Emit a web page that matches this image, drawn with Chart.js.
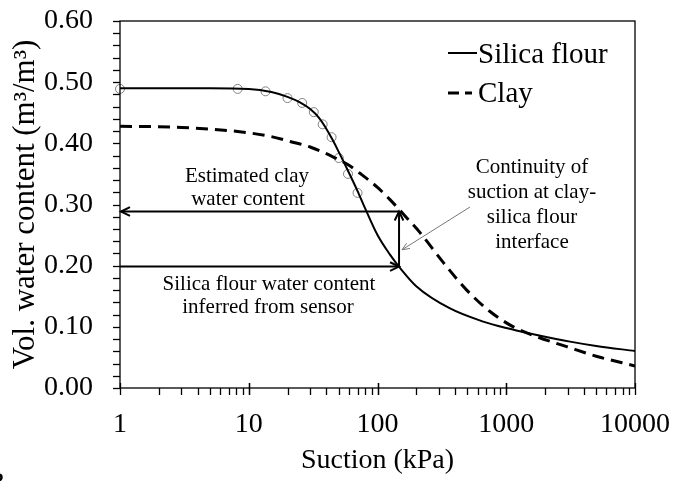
<!DOCTYPE html>
<html>
<head>
<meta charset="utf-8">
<script src="https://cdn.jsdelivr.net/npm/chart.js@4.4.1/dist/chart.umd.min.js"></script>
<style>
  html, body { margin: 0; padding: 0; background: #fff; }
  #wrap { width: 674px; height: 481px; }
</style>
</head>
<body>
<div id="wrap"><canvas id="chart" width="674" height="481"></canvas></div>
<script>
// Silica flour fitted curve
const silicaSuction = [1, 5, 10, 15, 20, 25, 30, 35, 40, 45, 50, 60, 70, 80, 100, 125, 150, 201, 366, 663, 1000, 1623, 3126, 5000, 10000];
const silicaTheta   = [0.490, 0.490, 0.489, 0.484, 0.476, 0.467, 0.456, 0.442, 0.424, 0.405, 0.386, 0.352, 0.322, 0.294, 0.250, 0.218, 0.196, 0.166, 0.130, 0.1085, 0.098, 0.088, 0.0758, 0.0687, 0.0605];

// Silica flour measured points
const measSuction = [1, 8.2, 13.5, 20, 26, 32, 37.5, 44, 50, 59, 70];
const measTheta   = [0.489, 0.489, 0.485, 0.474, 0.466, 0.451, 0.431, 0.410, 0.376, 0.350, 0.319];

// Clay curve
const claySuction = [1, 3, 8.5, 15, 21, 30, 45, 60, 73, 100, 125, 169, 214, 325, 493, 748, 1135, 1723, 2950, 5000, 10000];
const clayTheta   = [0.428, 0.426, 0.419, 0.411, 0.403, 0.394, 0.378, 0.364, 0.351, 0.328, 0.308, 0.278, 0.254, 0.205, 0.160, 0.125, 0.100, 0.084, 0.0676, 0.052, 0.036];

// Arrows: suction at interface, clay and silica water contents
const arrowSuction = 147;
const arrowClayTheta = 0.2885;
const arrowSilicaTheta = 0.1985;

const xTickLabels = [1, 10, 100, 1000, 10000];
const yTickLabels = [0.00, 0.10, 0.20, 0.30, 0.40, 0.50, 0.60];
const yMinorStep = 0.02;

const serif = '"Liberation Serif", "Times New Roman", serif';

function toPoints(xs, ys) {
  return xs.map((x, i) => ({ x: x, y: ys[i] }));
}

function arrowHead(ctx, x, y, angle, len, spread) {
  ctx.beginPath();
  ctx.moveTo(x - len * Math.cos(angle - spread), y - len * Math.sin(angle - spread));
  ctx.lineTo(x, y);
  ctx.lineTo(x - len * Math.cos(angle + spread), y - len * Math.sin(angle + spread));
  ctx.stroke();
}

const decorPlugin = {
  id: 'decor',
  afterDraw(chart) {
    const ctx = chart.ctx;
    const xs = chart.scales.x, ys = chart.scales.y;
    const a = chart.chartArea;
    ctx.save();

    // frame
    ctx.strokeStyle = '#000';
    ctx.lineWidth = 1.3;
    ctx.strokeRect(a.left, a.top, a.right - a.left, a.bottom - a.top);

    // y ticks
    const yMax = yTickLabels[yTickLabels.length - 1];
    for (let v = 0; v <= yMax + 1e-9; v += yMinorStep) {
      const py = Math.round(ys.getPixelForValue(v)) + 0.5;
      ctx.beginPath();
      ctx.moveTo(a.left - 7, py);
      ctx.lineTo(a.left, py);
      ctx.stroke();
    }
    // x ticks
    for (let d = 0; d < xTickLabels.length - 1; d++) {
      for (let k = 1; k <= 10; k++) {
        const v = xTickLabels[d] * k;
        const px = Math.round(xs.getPixelForValue(v)) + 0.5;
        const major = (k === 1 || k === 10);
        ctx.beginPath();
        ctx.moveTo(px, major ? a.bottom - 5 : a.bottom);
        ctx.lineTo(px, a.bottom + 7);
        ctx.stroke();
      }
    }

    // arrows
    const ax = xs.getPixelForValue(arrowSuction);
    const yClay = ys.getPixelForValue(arrowClayTheta);
    const ySil = ys.getPixelForValue(arrowSilicaTheta);
    ctx.lineWidth = 2;
    ctx.beginPath();
    ctx.moveTo(ax, yClay); ctx.lineTo(a.left + 1, yClay);
    ctx.stroke();
    arrowHead(ctx, a.left + 1, yClay, Math.PI, 10, 0.45);
    ctx.beginPath();
    ctx.moveTo(a.left, ySil); ctx.lineTo(ax, ySil);
    ctx.stroke();
    arrowHead(ctx, ax, ySil, 0, 10, 0.45);
    ctx.beginPath();
    ctx.moveTo(ax, ySil); ctx.lineTo(ax, yClay);
    ctx.stroke();
    arrowHead(ctx, ax, yClay, -Math.PI / 2, 10, 0.45);

    // leader line from the note to the vertical arrow
    ctx.strokeStyle = '#777';
    ctx.lineWidth = 1;
    const lx = ax + 3, ly = ys.getPixelForValue(0.226);
    ctx.beginPath();
    ctx.moveTo(470, 207); ctx.lineTo(lx, ly);
    ctx.stroke();
    arrowHead(ctx, lx, ly, Math.atan2(ly - 207, lx - 470), 8, 0.4);

    // annotation text
    ctx.fillStyle = '#000';
    ctx.font = '21px ' + serif;
    ctx.textAlign = 'center';
    ctx.textBaseline = 'alphabetic';
    ctx.fillText('Estimated clay', 247, 182);
    ctx.fillText('water content', 248, 205);
    ctx.fillText('Silica flour water content', 269, 290);
    ctx.fillText('inferred from sensor', 268, 313);
    ctx.fillText('Continuity of', 532, 173);
    ctx.fillText('suction at clay-', 532, 198);
    ctx.fillText('silica flour', 532, 223);
    ctx.fillText('interface', 532, 248);

    // legend
    ctx.strokeStyle = '#000';
    ctx.lineWidth = 2;
    ctx.beginPath();
    ctx.moveTo(448, 53); ctx.lineTo(477, 53);
    ctx.stroke();
    ctx.lineWidth = 3;
    ctx.setLineDash([11, 6]);
    ctx.beginPath();
    ctx.moveTo(448, 93); ctx.lineTo(472, 93);
    ctx.stroke();
    ctx.setLineDash([]);
    ctx.font = '29px ' + serif;
    ctx.textAlign = 'left';
    ctx.fillText('Silica flour', 478, 63);
    ctx.fillText('Clay', 478, 102);

    // panel letter, cut off at the edge
    ctx.font = '26px ' + serif;
    ctx.fillText('B', -12, 490);

    ctx.restore();
  }
};

new Chart(document.getElementById('chart'), {
  type: 'line',
  data: {
    datasets: [
      {
        label: 'Silica flour',
        data: toPoints(silicaSuction, silicaTheta),
        borderColor: '#000',
        borderWidth: 2,
        pointRadius: 0,
        cubicInterpolationMode: 'monotone',
        fill: false
      },
      {
        label: 'Clay',
        data: toPoints(claySuction, clayTheta),
        borderColor: '#000',
        borderWidth: 3,
        borderDash: [12, 7],
        pointRadius: 0,
        cubicInterpolationMode: 'monotone',
        fill: false
      },
      {
        label: 'Measured',
        data: toPoints(measSuction, measTheta),
        showLine: false,
        clip: false,
        pointRadius: 4.5,
        pointBorderColor: '#808080',
        pointBackgroundColor: 'rgba(0,0,0,0)',
        pointBorderWidth: 1
      }
    ]
  },
  options: {
    responsive: false,
    animation: false,
    layout: { padding: { left: 0, top: 21, right: 39, bottom: 0 } },
    plugins: {
      legend: { display: false },
      tooltip: { enabled: false }
    },
    scales: {
      x: {
        type: 'logarithmic',
        min: xTickLabels[0],
        max: xTickLabels[xTickLabels.length - 1],
        grid: { display: false, drawTicks: false },
        border: { display: false },
        afterFit(scale) {
          scale.height = 93;
          scale.paddingLeft = 0;
          scale.paddingRight = 0;
        },
        ticks: {
          autoSkip: false,
          maxRotation: 0,
          padding: 20,
          color: '#000',
          font: { family: serif, size: 28, lineHeight: 1.2 },
          callback(v) { return xTickLabels.includes(v) ? String(v) : null; }
        },
        title: {
          display: true,
          text: 'Suction (kPa)',
          color: '#000',
          font: { family: serif, size: 28, lineHeight: 1.2 },
          padding: { top: 0, bottom: 4 }
        }
      },
      y: {
        min: yTickLabels[0],
        max: yTickLabels[yTickLabels.length - 1],
        grid: { display: false, drawTicks: false },
        border: { display: false },
        afterFit(scale) {
          scale.width = 120;
          scale.paddingTop = 0;
          scale.paddingBottom = 0;
        },
        afterBuildTicks(scale) { scale.ticks = yTickLabels.map(v => ({ value: v })); },
        ticks: {
          padding: 27,
          color: '#000',
          font: { family: serif, size: 28, lineHeight: 1.2 },
          callback(v) { return v.toFixed(2); }
        },
        title: {
          display: true,
          text: 'Vol. water content (m³/m³)',
          color: '#000',
          font: { family: serif, size: 31, lineHeight: 1.2 },
          padding: { top: 7, bottom: 0 }
        }
      }
    }
  },
  plugins: [decorPlugin]
});
</script>
</body>
</html>
